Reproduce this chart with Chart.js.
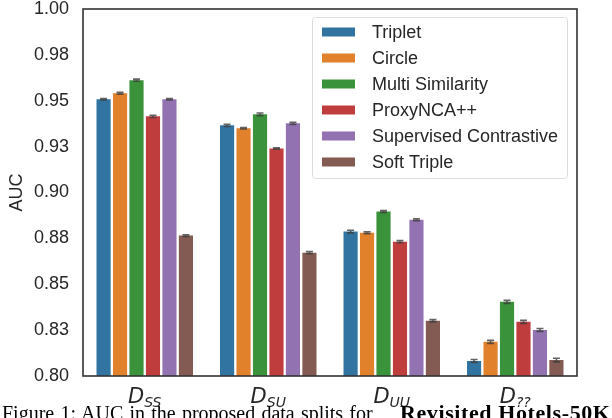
<!DOCTYPE html>
<html>
<head>
<meta charset="utf-8">
<script src="https://cdn.jsdelivr.net/npm/chart.js@4.4.1/dist/chart.umd.min.js"></script>
<style>
  html, body { margin:0; padding:0; background:#fff; overflow:hidden; }
  #wrap { position:relative; width:612px; height:418px; overflow:hidden; }
  .cap { position:absolute; top:403px; font-family:"Liberation Serif","Times New Roman",serif; font-size:20px; color:#000; white-space:nowrap; line-height:1; }
  #cap1 { left:2px; word-spacing:1.2px; }
  #cap2 { left:400px; top:402px; font-weight:bold; font-size:22px; letter-spacing:0.6px; }
</style>
</head>
<body>
<div id="wrap">
  <canvas id="c" width="612" height="418"></canvas>
  <div class="cap" id="cap1">Figure 1: AUC in the proposed data splits for</div>
  <div class="cap" id="cap2">Revisited Hotels-50K</div>
</div>
<script>
// ---- data ----
const categories = ['SS', 'SU', 'UU', '??'];
const xMainLabel = 'D';
const seriesNames = ['Triplet', 'Circle', 'Multi Similarity', 'ProxyNCA++', 'Supervised Contrastive', 'Soft Triple'];
const seriesColors = ['#3274a1', '#e1812c', '#3a923a', '#c03d3e', '#9372b2', '#845b53'];
const triplet      = [0.9508, 0.9366, 0.8787, 0.8082];
const circle       = [0.9541, 0.9350, 0.8781, 0.8186];
const multiSim     = [0.9612, 0.9426, 0.8896, 0.8404];
const proxyNCA     = [0.9415, 0.9240, 0.8732, 0.8295];
const supCon       = [0.9508, 0.9377, 0.8852, 0.8251];
const softTriple   = [0.8765, 0.8672, 0.8301, 0.8087];
const tripletErr    = [0.0004, 0.0006, 0.0007, 0.0008];
const circleErr     = [0.0005, 0.0004, 0.0005, 0.0008];
const multiSimErr   = [0.0006, 0.0007, 0.0005, 0.0008];
const proxyNCAErr   = [0.0006, 0.0004, 0.0006, 0.0008];
const supConErr     = [0.0004, 0.0006, 0.0005, 0.0008];
const softTripleErr = [0.0005, 0.0006, 0.0006, 0.0010];
const yTickLabels = ['0.80', '0.83', '0.85', '0.88', '0.90', '0.93', '0.95', '0.98', '1.00'];
const yMin = 0.80, yMax = 1.00, yStep = 0.025;

const seriesValues = [triplet, circle, multiSim, proxyNCA, supCon, softTriple];
const seriesErrors = [tripletErr, circleErr, multiSimErr, proxyNCAErr, supConErr, softTripleErr];

const TEXT = '#262626';
const FONT = '"Liberation Sans", Arial, sans-serif';

const errorBars = {
  id: 'errorBars',
  afterDatasetsDraw(chart) {
    const ctx = chart.ctx, ys = chart.scales.y;
    ctx.save();
    ctx.strokeStyle = 'rgba(60,60,60,0.8)';
    ctx.lineWidth = 1.6;
    chart.data.datasets.forEach((ds, di) => {
      const meta = chart.getDatasetMeta(di);
      meta.data.forEach((bar, i) => {
        const v = ds.data[i], e = ds.errs[i];
        const y1 = ys.getPixelForValue(v - e), y2 = ys.getPixelForValue(v + e);
        const x = bar.x, cw = 3.5;
        ctx.beginPath();
        ctx.moveTo(x, y1); ctx.lineTo(x, y2);
        ctx.moveTo(x - cw, y1); ctx.lineTo(x + cw, y1);
        ctx.moveTo(x - cw, y2); ctx.lineTo(x + cw, y2);
        ctx.stroke();
      });
    });
    ctx.restore();
  }
};

const frameAndLabels = {
  id: 'frameAndLabels',
  afterDraw(chart) {
    const ctx = chart.ctx, a = chart.chartArea, xs = chart.scales.x;
    ctx.save();
    // frame
    ctx.strokeStyle = '#333333';
    ctx.lineWidth = 1.6;
    ctx.strokeRect(a.left, a.top, a.right - a.left, a.bottom - a.top);
    // x labels (math style)
    ctx.fillStyle = TEXT;
    ctx.textBaseline = 'alphabetic';
    categories.forEach((sub, i) => {
      const cx = xs.getPixelForValue(i);
      ctx.font = 'italic 21px "DejaVu Sans", sans-serif';
      const wD = ctx.measureText(xMainLabel).width;
      ctx.font = 'italic 14px "DejaVu Sans", sans-serif';
      const wS = ctx.measureText(sub).width;
      const start = cx - (wD + wS) / 2;
      ctx.font = 'italic 21px "DejaVu Sans", sans-serif';
      ctx.fillText(xMainLabel, start, 403);
      ctx.font = 'italic 14px "DejaVu Sans", sans-serif';
      ctx.fillText(sub, start + wD, 407);
    });
    // legend
    const lx = 312, ly = 17, lw = 255, lh = 161;
    ctx.fillStyle = 'rgba(255,255,255,0.85)';
    ctx.strokeStyle = '#dcdcdc';
    ctx.lineWidth = 1;
    ctx.beginPath();
    ctx.roundRect(lx + 0.5, ly + 0.5, lw, lh, 3);
    ctx.fill(); ctx.stroke();
    ctx.font = '18px ' + FONT;
    ctx.textBaseline = 'middle';
    chart.data.datasets.forEach((ds, di) => {
      const cy = 32 + di * 26;
      ctx.fillStyle = ds.backgroundColor;
      ctx.fillRect(322, cy - 4.5, 33, 9);
      ctx.fillStyle = TEXT;
      ctx.fillText(ds.label, 372, cy + 1);
    });
    ctx.restore();
  }
};

new Chart(document.getElementById('c'), {
  type: 'bar',
  data: {
    labels: categories,
    datasets: seriesNames.map((n, i) => ({
      label: n,
      data: seriesValues[i],
      errs: seriesErrors[i],
      backgroundColor: seriesColors[i],
      borderWidth: 0,
      categoryPercentage: 0.8,
      barPercentage: 0.86
    }))
  },
  options: {
    responsive: false,
    animation: false,
    devicePixelRatio: 1,
    layout: { padding: { left: 0, right: 35, top: 9, bottom: 0 } },
    plugins: { legend: { display: false }, tooltip: { enabled: false } },
    scales: {
      x: {
        grid: { display: false, drawTicks: false },
        border: { display: false },
        ticks: { display: false },
        afterFit(s) { s.height = 42; s.paddingLeft = 0; s.paddingRight = 0; }
      },
      y: {
        min: yMin, max: yMax,
        grid: { display: false, drawTicks: false },
        border: { display: false },
        ticks: {
          stepSize: yStep,
          padding: 14,
          color: TEXT,
          font: { family: FONT, size: 18 },
          callback: (v, i) => yTickLabels[i]
        },
        title: { display: true, text: 'AUC', color: TEXT, font: { family: FONT, size: 18 }, padding: { top: 6, bottom: 0 } },
        afterFit(s) { s.width = 83; s.paddingTop = 0; s.paddingBottom = 0; }
      }
    }
  },
  plugins: [errorBars, frameAndLabels]
});
</script>
</body>
</html>
